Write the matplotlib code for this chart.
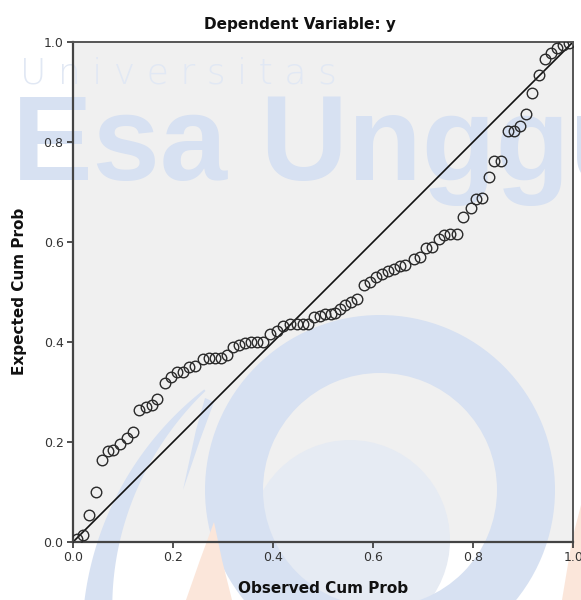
import numpy as np
import matplotlib
matplotlib.use("Agg")
import matplotlib.pyplot as plt
from matplotlib.patches import Rectangle, Wedge, Circle, Polygon

# ---- data ----
observed_cum_prob = [
    0.007, 0.020, 0.032, 0.045, 0.057, 0.069, 0.080, 0.093, 0.108, 0.120,
    0.132, 0.145, 0.157, 0.168, 0.183, 0.195, 0.207, 0.219, 0.232, 0.243,
    0.260, 0.272, 0.283, 0.295, 0.307, 0.320, 0.332, 0.343, 0.355, 0.367,
    0.380, 0.394, 0.407, 0.419, 0.433, 0.447, 0.459, 0.470, 0.482, 0.493,
    0.503, 0.515, 0.523, 0.533, 0.544, 0.556, 0.568, 0.582, 0.593, 0.606,
    0.618, 0.630, 0.642, 0.653, 0.664, 0.681, 0.693, 0.706, 0.718, 0.731,
    0.742, 0.754, 0.768, 0.780, 0.795, 0.806, 0.818, 0.831, 0.842, 0.855,
    0.869, 0.881, 0.893, 0.906, 0.917, 0.931, 0.943, 0.956, 0.968, 0.980,
    0.991,
]
expected_cum_prob = [
    0.005, 0.013, 0.053, 0.099, 0.163, 0.181, 0.183, 0.195, 0.207, 0.219,
    0.263, 0.269, 0.273, 0.285, 0.317, 0.329, 0.339, 0.339, 0.349, 0.351,
    0.365, 0.367, 0.367, 0.367, 0.373, 0.390, 0.393, 0.397, 0.400, 0.400,
    0.400, 0.415, 0.422, 0.431, 0.435, 0.435, 0.435, 0.435, 0.449, 0.452,
    0.455, 0.456, 0.457, 0.465, 0.474, 0.480, 0.485, 0.513, 0.519, 0.529,
    0.536, 0.542, 0.546, 0.551, 0.553, 0.566, 0.569, 0.587, 0.589, 0.605,
    0.614, 0.615, 0.615, 0.649, 0.668, 0.686, 0.688, 0.729, 0.762, 0.762,
    0.821, 0.821, 0.831, 0.855, 0.898, 0.933, 0.966, 0.977, 0.987, 0.993,
    0.997,
]
tick_values = [0.0, 0.2, 0.4, 0.6, 0.8, 1.0]
tick_labels = ["0.0", "0.2", "0.4", "0.6", "0.8", "1.0"]
title_text = "Dependent Variable: y"
x_label = "Observed Cum Prob"
y_label = "Expected Cum Prob"

W, H = 581, 600
fig = plt.figure(figsize=(W / 100, H / 100), dpi=100)
fig.patch.set_facecolor("white")

# plot area in pixels
L, T, PW, PH = 73.3, 41.7, 500.0, 500.0

# ---- background layer (plot fill + watermark) ----
bg = fig.add_axes([0, 0, 1, 1], zorder=0)
bg.set_xlim(0, W)
bg.set_ylim(H, 0)
bg.axis("off")
bg.add_patch(Rectangle((L, T), PW, PH, facecolor="#F0F0F0", edgecolor="none", zorder=0))

blue = "#D7E1F2"
light_blue = "#E1E8F4"
orange = "#FBE6DA"

# faint inner disc
bg.add_patch(Circle((350, 540), 100, facecolor="#E6EBF3", edgecolor="none", zorder=1))
# ring
bg.add_patch(Wedge((380, 490), 175, 0, 360, width=58, facecolor=blue, edgecolor="none", zorder=1))
# big left swoosh
cx, cy = 400, 640
th = np.linspace(np.radians(190), np.radians(128), 60)
r_out = np.full_like(th, 318.0)
r_in = np.linspace(280, 316, th.size)
pts_out = np.column_stack([cx + r_out * np.cos(th), cy - r_out * np.sin(th)])
pts_in = np.column_stack([cx + r_in * np.cos(th), cy - r_in * np.sin(th)])[::-1]
bg.add_patch(Polygon(np.vstack([pts_out, pts_in]), closed=True, facecolor=blue, edgecolor="none", zorder=1))
# thin blade
bg.add_patch(Polygon([(183, 490), (196, 430), (205, 398), (214, 402), (200, 440)], closed=True,
                     facecolor=blue, edgecolor="none", zorder=1))
# orange flames
bg.add_patch(Polygon([(214, 522), (222, 560), (232, 600), (186, 600), (200, 560)], closed=True,
                     facecolor=orange, edgecolor="none", zorder=1))
bg.add_patch(Polygon([(581, 505), (572, 540), (562, 600), (581, 600)], closed=True,
                     facecolor=orange, edgecolor="none", zorder=1))
# watermark text
bg.text(20, 83, "U n i v e r s i t a s", fontsize=26, family="DejaVu Sans", fontweight="light",
        color=light_blue, ha="left", va="baseline", zorder=2)
bg.text(12, 180, "Esa Unggul", fontsize=87, family="Liberation Sans", fontweight="bold",
        color=blue, ha="left", va="baseline", zorder=2)

# ---- main chart axes ----
ax = fig.add_axes([L / W, (H - T - PH) / H, PW / W, PH / H], zorder=1)
ax.set_facecolor("none")
ax.set_xlim(0, 1)
ax.set_ylim(0, 1)

ax.plot([0, 1], [0, 1], color="#111111", linewidth=1.2, zorder=2)
ax.plot(observed_cum_prob, expected_cum_prob, linestyle="none", marker="o",
        markersize=7.6, markerfacecolor="none", markeredgecolor="#2a2a2a",
        markeredgewidth=1.0, zorder=3)

for side in ["left", "bottom"]:
    ax.spines[side].set_color("#444444")
    ax.spines[side].set_linewidth(1.6)
for side in ["top", "right"]:
    ax.spines[side].set_color("#555555")
    ax.spines[side].set_linewidth(1.4)

ax.set_xticks(tick_values)
ax.set_xticklabels(tick_labels)
ax.set_yticks(tick_values)
ax.set_yticklabels(tick_labels)
ax.tick_params(axis="both", direction="out", length=4, width=1.2, color="#333333",
               labelsize=9, labelcolor="#333333", pad=3)
for lbl in ax.get_xticklabels() + ax.get_yticklabels():
    lbl.set_clip_on(False)

ax.set_xlabel(x_label, fontsize=11, fontweight="bold", color="#111111", labelpad=12)
ax.set_ylabel(y_label, fontsize=11, fontweight="bold", color="#111111", labelpad=12)
fig.text(300 / W, 1 - 25 / H, title_text, fontsize=11, fontweight="bold", color="#111111",
         ha="center", va="center")

fig.savefig("out.png", dpi=100)
